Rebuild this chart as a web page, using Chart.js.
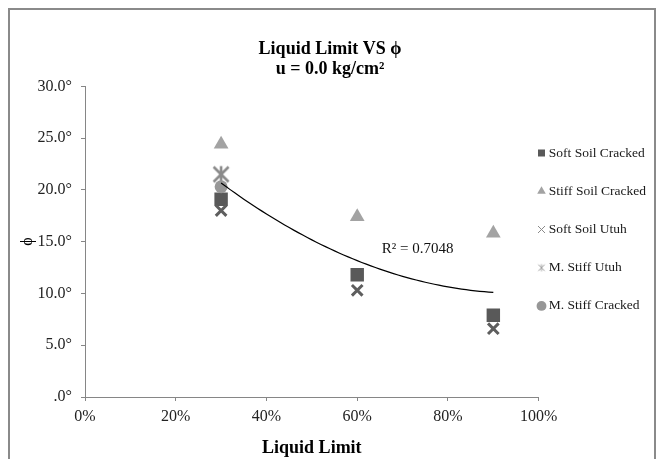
<!DOCTYPE html>
<html>
<head>
<meta charset="utf-8">
<script src="https://cdn.jsdelivr.net/npm/chart.js@4.4.1/dist/chart.umd.min.js"></script>
<style>
  html, body { margin: 0; padding: 0; background: #ffffff; overflow: hidden; }
  #wrap { position: relative; width: 660px; height: 459px; }
  #frame { position: absolute; left: 8px; top: 8px; width: 648px; height: 480px;
           border: 2px solid #8a8a8a; box-sizing: border-box; }
  #c { position: absolute; left: 0; top: 0; }
</style>
</head>
<body>
<div id="wrap">
  <div id="frame"></div>
  <canvas id="c" width="660" height="459"></canvas>
</div>
<script>
// ---- data ----
const liquidLimit = [0.3, 0.6, 0.9];
const softSoilCracked = [19.1, 11.8, 7.9];
const stiffSoilCracked = [24.4, 17.4, 15.8];
const softSoilUtuh = [18.0, 10.3, 6.6];
const mStiffUtuhX = [0.3];
const mStiffUtuh = [21.5];
const mStiffCrackedX = [0.3];
const mStiffCracked = [20.3];

const seriesNames = ['Soft Soil Cracked', 'Stiff Soil Cracked', 'Soft Soil Utuh', 'M. Stiff Utuh', 'M. Stiff Cracked'];
const xTickLabels = ['0%', '20%', '40%', '60%', '80%', '100%'];
const yTickLabels = ['.0°', '5.0°', '10.0°', '15.0°', '20.0°', '25.0°', '30.0°'];
const chartTitle = ['Liquid Limit VS ϕ', 'u = 0.0 kg/cm²'];
const xAxisTitle = 'Liquid Limit';
const yAxisTitle = 'ϕ';
const trendText = 'R² = 0.7048';
const trendTextAt = { x: 0.654, y: 14.3 }; // in data units

const FONT = '"Liberation Serif", "Times New Roman", serif';

function toPoints(xs, ys) { return xs.map((x, i) => ({ x: x, y: ys[i] })); }

// polynomial (order 2) least-squares trendline over all plotted points
function polyFit2(xs, ys) {
  const s = [0, 0, 0, 0, 0], t = [0, 0, 0];
  for (let i = 0; i < xs.length; i++) {
    let p = 1;
    for (let k = 0; k < 5; k++) { s[k] += p; p *= xs[i]; }
    t[0] += ys[i]; t[1] += ys[i] * xs[i]; t[2] += ys[i] * xs[i] * xs[i];
  }
  const M = [[s[0], s[1], s[2], t[0]], [s[1], s[2], s[3], t[1]], [s[2], s[3], s[4], t[2]]];
  for (let c = 0; c < 3; c++) {
    let piv = c;
    for (let r = c + 1; r < 3; r++) if (Math.abs(M[r][c]) > Math.abs(M[piv][c])) piv = r;
    [M[c], M[piv]] = [M[piv], M[c]];
    for (let r = 0; r < 3; r++) {
      if (r === c) continue;
      const f = M[r][c] / M[c][c];
      for (let k = c; k < 4; k++) M[r][k] -= f * M[c][k];
    }
  }
  return [M[0][3] / M[0][0], M[1][3] / M[1][1], M[2][3] / M[2][2]];
}

const allX = [].concat(liquidLimit, liquidLimit, liquidLimit, mStiffUtuhX, mStiffCrackedX);
const allY = [].concat(softSoilCracked, stiffSoilCracked, softSoilUtuh, mStiffUtuh, mStiffCracked);
const coef = polyFit2(allX, allY);
const xMin = Math.min.apply(null, allX), xMax = Math.max.apply(null, allX);
const trendPoints = [];
for (let i = 0; i <= 60; i++) {
  const x = xMin + (xMax - xMin) * i / 60;
  trendPoints.push({ x: x, y: coef[0] + coef[1] * x + coef[2] * x * x });
}

// Excel-like "star" marker: x plus a vertical stroke
function starMarker(size, arm, lw, color) {
  const cv = document.createElement('canvas');
  cv.width = size; cv.height = size;
  const g = cv.getContext('2d');
  const c = size / 2;
  g.strokeStyle = color; g.lineWidth = lw; g.lineCap = 'butt';
  g.beginPath();
  g.moveTo(c - arm, c - arm); g.lineTo(c + arm, c + arm);
  g.moveTo(c + arm, c - arm); g.lineTo(c - arm, c + arm);
  g.moveTo(c, c - arm * 1.1); g.lineTo(c, c + arm * 1.1);
  g.stroke();
  return cv;
}
const starBig = starMarker(22, 7.5, 2.6, '#8a8a8a');
const starSmall = starMarker(10, 3.2, 1, '#a0a0a0');

const LEGEND_BOX_WIDTH = 121.3;
const LEGEND_X = 541;

const legendFix = {
  id: 'legendFix',
  beforeLayout(chart) {
    const lg = chart.legend;
    if (lg && !lg.__fixed) {
      const orig = lg.fit;
      lg.fit = function () { orig.call(this); this.width = LEGEND_BOX_WIDTH; };
      lg.__fixed = true;
    }
  },
  afterLayout(chart) {
    const lg = chart.legend;
    if (!lg) return;
    const pad = lg.options.labels.padding;
    lg.left = LEGEND_X - pad;
    lg.right = chart.width;
    lg.width = lg.right - lg.left;
  }
};

const trendLabel = {
  id: 'trendLabel',
  afterDatasetsDraw(chart) {
    const ctx = chart.ctx, xs = chart.scales.x, ys = chart.scales.y;
    ctx.save();
    ctx.font = '15px ' + FONT;
    ctx.fillStyle = '#111111';
    ctx.textAlign = 'left';
    ctx.textBaseline = 'middle';
    ctx.fillText(trendText, xs.getPixelForValue(trendTextAt.x), ys.getPixelForValue(trendTextAt.y));
    ctx.restore();
  }
};

const legendStyle = [
  { lineWidth: 0 },
  { lineWidth: 0 },
  { lineWidth: 1, strokeStyle: '#8a8a8a' },
  { lineWidth: 1, pointStyle: starSmall },
  { lineWidth: 0 }
];

new Chart(document.getElementById('c'), {
  type: 'scatter',
  data: {
    datasets: [
      { label: seriesNames[0], data: toPoints(liquidLimit, softSoilCracked), pointStyle: 'rect',
        pointRadius: 9.5, pointHoverRadius: 9.5, backgroundColor: '#595959', borderColor: '#595959', borderWidth: 0, order: 5 },
      { label: seriesNames[1], data: toPoints(liquidLimit, stiffSoilCracked), pointStyle: 'triangle',
        pointRadius: 8.5, pointHoverRadius: 8.5, backgroundColor: '#a3a3a3', borderColor: '#a3a3a3', borderWidth: 0, order: 4 },
      { label: seriesNames[2], data: toPoints(liquidLimit, softSoilUtuh), pointStyle: 'crossRot',
        pointRadius: 7.5, pointHoverRadius: 7.5, backgroundColor: '#5e5e5e', borderColor: '#5e5e5e', borderWidth: 3, order: 3 },
      { label: seriesNames[3], data: toPoints(mStiffUtuhX, mStiffUtuh), pointStyle: starBig,
        pointRadius: 9, pointHoverRadius: 9, backgroundColor: '#8a8a8a', borderColor: '#8a8a8a', borderWidth: 0, order: 2 },
      { label: seriesNames[4], data: toPoints(mStiffCrackedX, mStiffCracked), pointStyle: 'circle',
        pointRadius: 6.5, pointHoverRadius: 6.5, backgroundColor: '#979797', borderColor: '#979797', borderWidth: 0, order: 1 },
      { label: 'trend', data: trendPoints, showLine: true, pointRadius: 0, pointHoverRadius: 0,
        borderColor: '#000000', backgroundColor: '#000000', borderWidth: 1.2, tension: 0, order: 0 }
    ]
  },
  options: {
    responsive: false,
    animation: false,
    events: [],
    layout: { padding: 0 },
    plugins: {
      tooltip: { enabled: false },
      title: {
        display: true,
        text: chartTitle,
        color: '#000000',
        font: { family: FONT, size: 18, weight: 'bold', lineHeight: 20 / 18 },
        padding: { top: 39, bottom: 7.3 }
      },
      legend: {
        display: true,
        position: 'right',
        align: 'center',
        labels: {
          usePointStyle: true,
          boxWidth: 1,
          boxHeight: 7,
          padding: 24.7,
          color: '#1a1a1a',
          font: { family: FONT, size: 13.5 },
          filter: (item) => item.datasetIndex < 5,
          sort: (a, b) => a.datasetIndex - b.datasetIndex,
          generateLabels: (chart) => Chart.defaults.plugins.legend.labels.generateLabels(chart).map((it) => {
            const st = legendStyle[it.datasetIndex];
            return st ? Object.assign(it, st) : it;
          })
        }
      }
    },
    scales: {
      x: {
        type: 'linear',
        min: 0, max: 1,
        ticks: {
          stepSize: 0.2,
          color: '#222222',
          padding: 6,
          font: { family: FONT, size: 16 },
          callback: (v, i) => xTickLabels[i]
        },
        grid: { display: true, drawOnChartArea: false, drawTicks: true, tickLength: 4, color: '#868686', lineWidth: 1 },
        border: { display: true, color: '#868686', width: 1 },
        title: { display: true, text: xAxisTitle, color: '#000000',
                 font: { family: FONT, size: 18, weight: 'bold' }, padding: { top: 0, bottom: 0 } },
        afterFit: (s) => { s.height = 62; }
      },
      y: {
        type: 'linear',
        min: 0, max: 30,
        ticks: {
          stepSize: 5,
          color: '#222222',
          padding: 9,
          font: { family: FONT, size: 16 },
          callback: (v, i) => yTickLabels[i]
        },
        grid: { display: true, drawOnChartArea: false, drawTicks: true, tickLength: 4, color: '#868686', lineWidth: 1 },
        border: { display: true, color: '#868686', width: 1 },
        title: { display: true, text: yAxisTitle, color: '#000000',
                 font: { family: FONT, size: 16 }, padding: { top: 18, bottom: 0 } },
        afterFit: (s) => { s.width = 85; }
      }
    }
  },
  plugins: [legendFix, trendLabel]
});
</script>
</body>
</html>
